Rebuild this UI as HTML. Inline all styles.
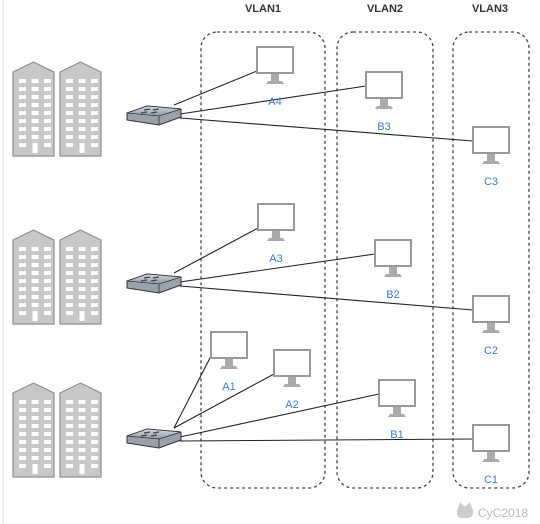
<!DOCTYPE html>
<html><head><meta charset="utf-8"><style>
html,body{margin:0;padding:0;background:#fff;}
svg{display:block;font-family:"Liberation Sans",sans-serif;}
</style></head><body>
<svg id="s" width="540" height="524" viewBox="0 0 540 524">
<defs>
<linearGradient id="sw" x1="0" y1="0" x2="0" y2="1"><stop offset="0" stop-color="#d6dbe6"/><stop offset="1" stop-color="#8f96a3"/></linearGradient>
</defs>
<line x1="3" y1="0" x2="3" y2="524" stroke="#eef0f0" stroke-width="2"/>
<g fill="none" stroke="#444" stroke-width="1.3" stroke-dasharray="3,3">
<rect x="201" y="32" width="124" height="456" rx="16"/>
<rect x="337" y="32" width="96" height="456" rx="16"/>
<rect x="453" y="32" width="76" height="456" rx="16"/>
</g>
<g font-size="11" fill="#333" text-anchor="middle" font-weight="bold">
<text x="263" y="12">VLAN1</text>
<text x="385" y="12">VLAN2</text>
<text x="490" y="12">VLAN3</text>
</g>
<g id="bld"></g>
<g id="lines" stroke="#222" stroke-width="1.1"></g>
<g id="sws"></g>
<g id="mons"></g>
<g>
<rect x="457" y="506" width="16" height="12" rx="5" fill="#ccc"/>
<path d="M458 508 L460 502 L464 506 Z M472 508 L470 502 L466 506 Z" fill="#ccc"/>
<text x="478" y="517" font-size="12" fill="#bbb">CyC2018</text>
</g>
</svg>
<script>
const NS="http://www.w3.org/2000/svg";
function mk(t,a,p){const e=document.createElementNS(NS,t);for(const k in a)e.setAttribute(k,a[k]);p.appendChild(e);return e;}
const bld=document.getElementById('bld');
[62,230,383].forEach((y,gi)=>{
 [13,60].forEach((x,bi)=>{
  const g=mk('g',{},bld);
  
  
  mk('path',{d:`M${x} ${y+10} L${x+20.5} ${y} L${x+41} ${y+10} L${x+41} ${y+94} L${x} ${y+94} Z`,fill:'#c8c8c8',stroke:'#8e8e8e','stroke-width':1.2},g);
  for(let r=0;r<9;r++)for(let c=0;c<3;c++){
   const wx=x+6+c*12.5, wy=y+17+r*8;
   if(r==8&&c==1){mk('rect',{x:wx+1,y:wy,width:5,height:10,fill:'#fff'},g);}
   else mk('rect',{x:wx,y:wy,width:7,height:4,fill:'#fff'},g);
  }
 });
});
const switches=[[154,115],[154,283],[154,438]];
const mons=[
 ["A4",257,47,0],["B3",366,72,0],["C3",473,127,0],
 ["A3",258,204,1],["B2",375,240,1],["C2",473,296,1],
 ["A1",211,332,2],["A2",274,350,2],["B1",379,380,2],["C1",473,425,2]];
const lines=document.getElementById('lines');
mons.forEach(m=>{
 const s=switches[m[3]];
 const l=mk('line',{x1:s[0]+(m[1]<300?20:26),y1:s[1]+(m[1]<300?-10:m[1]<450?-1:3),x2:m[1],y2:m[2]+(m[1]<300?24:14)},lines);
 
 
});
const sws=document.getElementById('sws');
switches.forEach((s,i)=>{
 const g=mk('g',{transform:`translate(${s[0]-27},${s[1]-12})`},sws);
 
 
 mk('path',{d:'M0 10 L20 3 L54 6 L54 14 L32 22 L0 17 Z',fill:'#9aa1ad',stroke:'#333','stroke-width':1},g);
 mk('path',{d:'M0 10 L20 3 L54 6 L32 13 Z',fill:'url(#sw)',stroke:'#333','stroke-width':0.8},g);
 mk('line',{x1:32,y1:13,x2:32,y2:22,stroke:'#333','stroke-width':0.8},g);
 [[17,7],[26,7],[14,10],[24,10]].forEach(p=>mk('line',{x1:p[0],y1:p[1],x2:p[0]+6,y2:p[1]-1,stroke:'#444','stroke-width':1.2},g));
});
const mg=document.getElementById('mons');
mons.forEach(m=>{
 const g=mk('g',{},mg);
 
 
 const x=m[1],y=m[2];
 mk('rect',{x:x,y:y,width:36,height:26,fill:'#fff',stroke:'#999','stroke-width':2},g);
 mk('rect',{x:x+14,y:y+27,width:8,height:7,fill:'#aaa'},g);
 mk('path',{d:`M${x+9} ${y+37} L${x+11} ${y+34} L${x+25} ${y+34} L${x+27} ${y+37} Z`,fill:'#aaa'},g);
 const t=mk('text',{x:x+18,y:y+58,'font-size':11,fill:'#3a78d8','text-anchor':'middle'},g);
 t.textContent=m[0];
});
</script>
</body></html>
